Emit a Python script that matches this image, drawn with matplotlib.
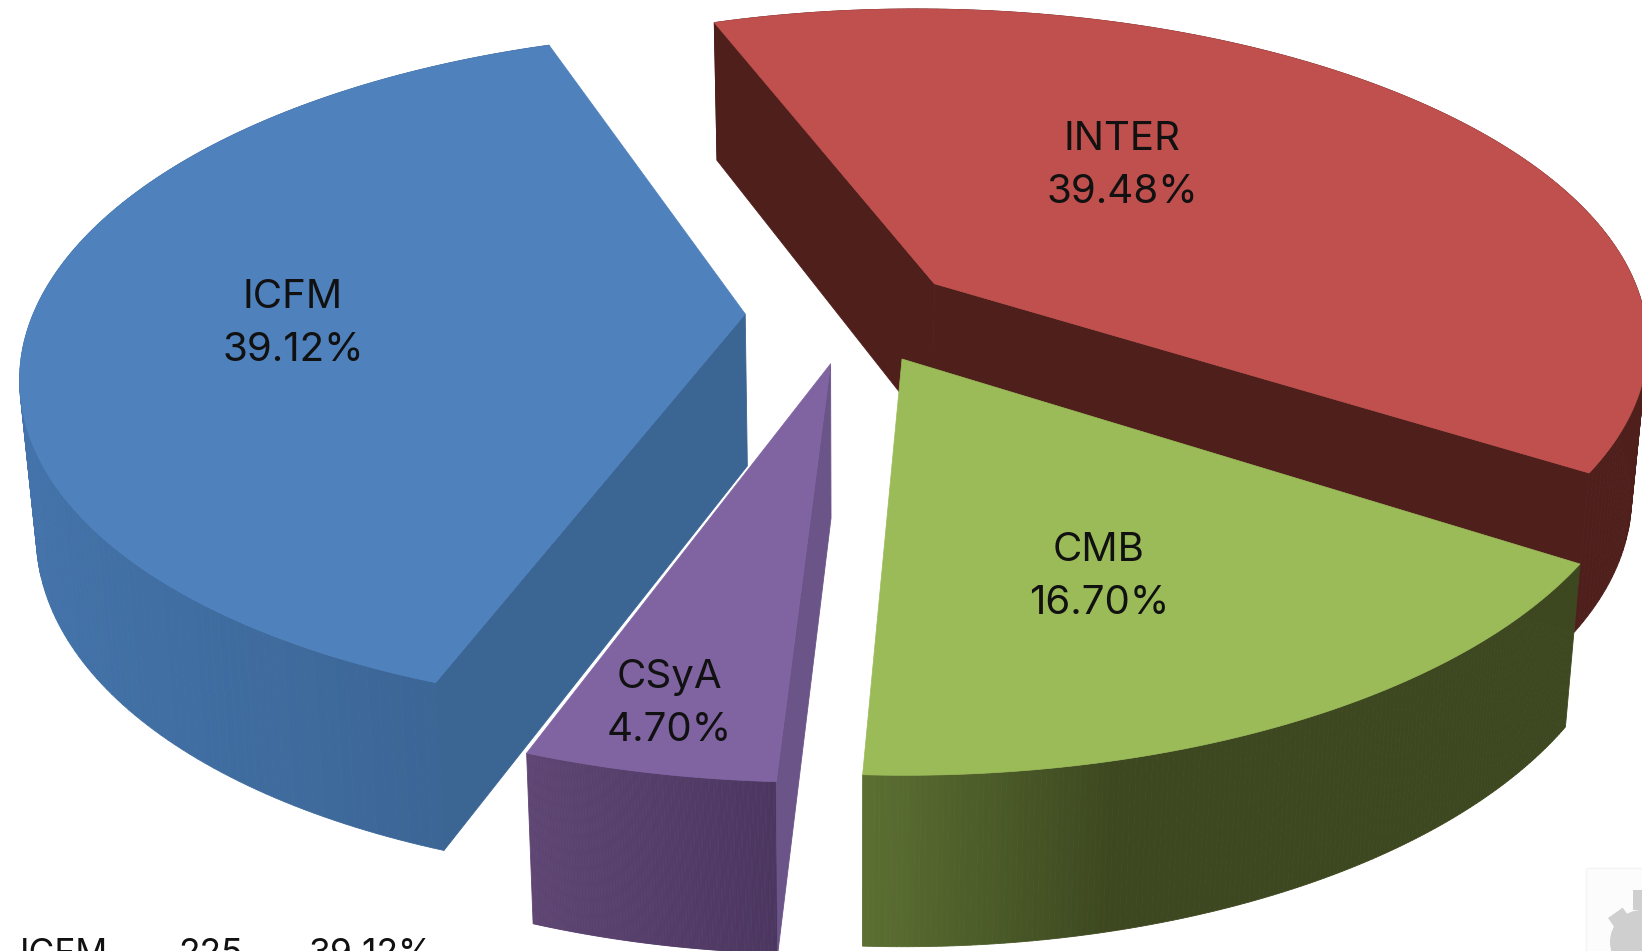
import numpy as np
import matplotlib
matplotlib.use('Agg')
import matplotlib.pyplot as plt
from matplotlib.patches import Polygon

names = ['INTER', 'CMB', 'CSyA', 'ICFM']
shares = [39.48, 16.70, 4.70, 39.12]
table_name = 'ICFM'
table_count = '225'
table_share = '39.12%'

top_cols = ['#c0504d', '#9bbb59', '#8064a2', '#4f81bd']
wall_left = ['#4f1f1c', '#5c7032', '#5e4573', '#4373aa']
wall_right = ['#4f1f1c', '#3d4820', '#4b3660', '#3a6290']
cut_cols = ['#4f1f1c', '#3d4820', '#6a5488', '#3b6593']
shade_span = [1.0, 0.35, 1.0, 1.0]
label_pos = [(1122, 166), (1099, 577), (669, 704), (293, 324)]
draw_order = [0, 3, 1, 2]

W, H = 1642, 951
cx, cy = 852, 314      # pie centre on the picture
R, Rs = 712, 330       # horizontal radius, vertical radius
k = 0.167              # perspective
h, kh = 152, 0.10      # wall height
bot_scale = 0.98
explode = 0.15
start = -19.5
bend = 6


def project(X, Y, bottom=False):
    w = 1 + k * Y
    x = cx + R * X / w - bend * Y ** 2
    y = cy - Rs * Y / w
    if bottom:
        x = cx + (x - cx) * bot_scale
        y = y + h / (1 + kh * Y)
    return x, y


plt.rcParams['font.family'] = ['Inter', 'DejaVu Sans']
fig = plt.figure(figsize=(W / 100, H / 100), dpi=100)
ax = fig.add_axes([0, 0, 1, 1])
ax.set_xlim(0, W)
ax.set_ylim(H, 0)
ax.axis('off')


def quad(x0, y0, x1, y1, x2, y2, x3, y3, col, z):
    ax.add_patch(Polygon([(x0, y0), (x1, y1), (x2, y2), (x3, y3)], closed=True,
                         fc=col, ec=col, lw=0.6, zorder=z))


def faces_viewer(ex, ey, mx, my):
    # cut face shows only if going down leaves the top of the slice
    side_in = ex * my - ey * mx
    side_down = ex * 1.0
    return side_in * side_down < 0


edges = start + np.cumsum([0] + [s * 3.6 for s in shares])
for n, i in enumerate(draw_order):
    a0, a1 = edges[i], edges[i + 1]
    mid = np.radians((a0 + a1) / 2)
    ox, oy = explode * np.sin(mid), explode * np.cos(mid)
    th = np.radians(np.linspace(a0, a1, 160))
    X, Y = ox + np.sin(th), oy + np.cos(th)
    xt, yt = project(X, Y)
    xb, yb = project(X, Y, bottom=True)
    ax_t, ay_t = project(ox, oy)
    ax_b, ay_b = project(ox, oy, bottom=True)
    z = n * 10

    # outer wall, shaded from left to right
    c0 = np.array(matplotlib.colors.to_rgb(wall_left[i]))
    c1 = np.array(matplotlib.colors.to_rgb(wall_right[i]))
    span = max(xt.max() - xt.min(), 1)
    for j in range(len(th) - 1):
        f = min((xt[j] - xt.min()) / span / shade_span[i], 1)
        quad(xt[j], yt[j], xt[j + 1], yt[j + 1], xb[j + 1], yb[j + 1], xb[j], yb[j],
             c0 + (c1 - c0) * f, z)

    # cut faces
    mx, my = project(ox + 0.5 * np.sin(mid), oy + 0.5 * np.cos(mid))
    for tip in (0, -1):
        if faces_viewer(xt[tip] - ax_t, yt[tip] - ay_t, mx - ax_t, my - ay_t):
            quad(ax_t, ay_t, xt[tip], yt[tip], xb[tip], yb[tip], ax_b, ay_b, cut_cols[i], z + 1)

    # top
    pts = np.column_stack([np.r_[ax_t, xt], np.r_[ay_t, yt]])
    ax.add_patch(Polygon(pts, closed=True, fc=top_cols[i], ec=top_cols[i], lw=0.5, zorder=z + 2))

for i in range(len(names)):
    ax.text(label_pos[i][0], label_pos[i][1], '%s\n%.2f%%' % (names[i], shares[i]),
            ha='center', va='center', fontsize=29, color='#111111', linespacing=1.52, zorder=100)

# table row cut off by the bottom edge
ax.text(20, 938, table_name, fontsize=25.5, va='top', color='#111111', zorder=100)
ax.text(178, 938, table_count, fontsize=25.5, va='top', color='#111111', zorder=100)
ax.text(309, 938, table_share, fontsize=25.5, va='top', color='#111111', zorder=100)

# grey mark in the corner
ax.add_patch(plt.Rectangle((1586, 868), 60, 90, fc='#fcfcfc', ec='#f4f4f4', lw=1, zorder=90))
ax.add_patch(plt.Circle((1642, 942), 32, fc='#cfcfcf', ec='none', zorder=91))
ax.add_patch(plt.Rectangle((1608, 918), 18, 16, angle=-35, fc='#cfcfcf', ec='none', zorder=91))
ax.add_patch(plt.Rectangle((1633, 890), 14, 20, fc='#cfcfcf', ec='none', zorder=91))

fig.savefig('out.png', dpi=100)
